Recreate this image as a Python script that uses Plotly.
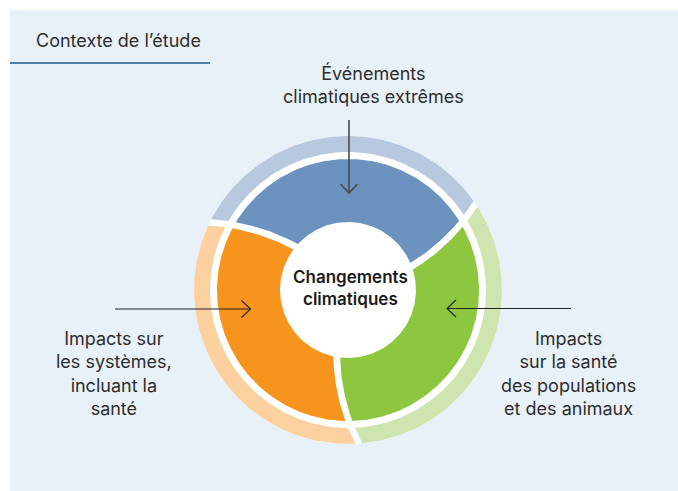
import numpy as np
import plotly.graph_objects as go

# ---------------- data ----------------
segment_names = ["Événements climatiques extrêmes",
                 "Impacts sur les systèmes, incluant la santé",
                 "Impacts sur la santé des populations et des animaux"]
segment_shares = [1, 1, 1]
main_colors = ["#6C93BF", "#F7941E", "#8DC63F"]
light_colors = ["#B8C8DF", "#FDD09F", "#CFE5AF"]

center_label = "Changements<br>climatiques"
title_text = "Contexte de l’étude"
top_label = "Événements<br>climatiques extrêmes"
left_label = "Impacts sur<br>les systèmes,<br>incluant la<br>santé"
right_label = "Impacts<br>sur la santé<br>des populations<br>et des animaux"

# ---------------- geometry / style ----------------
W, H = 678, 491
CX, CY = 348, 290
R_HOLE, R_MAIN, R_LIGHT_IN, R_LIGHT_OUT = 68, 131, 138, 154
START_DEG = 20.5      # boundary angle at the hole
TWIST_DEG = 13.5      # extra rotation reached at the outer edge
HALF_GAP = 3.5        # px
FONT = "Inter"
TXT = "#2E2E2E"
FS = 18

def boundary_theta(base_deg, r):
    return np.radians(base_deg + TWIST_DEG * (r - R_HOLE) / (R_LIGHT_OUT - R_HOLE))

def sector(b0, b1, r_in, r_out, n=120):
    rs = np.linspace(r_in, r_out, 40)
    t_out = np.linspace(boundary_theta(b0, r_out) + HALF_GAP / r_out,
                        boundary_theta(b1, r_out) - HALF_GAP / r_out, n)
    t_b1 = boundary_theta(b1, rs[::-1]) - HALF_GAP / rs[::-1]
    t_in = np.linspace(boundary_theta(b1, r_in) - HALF_GAP / r_in,
                       boundary_theta(b0, r_in) + HALF_GAP / r_in, n)
    t_b0 = boundary_theta(b0, rs) + HALF_GAP / rs
    th = np.concatenate([t_out, t_b1, t_in, t_b0])
    rr = np.concatenate([np.full(n, r_out), rs[::-1], np.full(n, r_in), rs])
    return CX + rr * np.cos(th), CY - rr * np.sin(th)

fig = go.Figure()

# white underlay disc
tt = np.linspace(0, 2 * np.pi, 361)
fig.add_trace(go.Scatter(x=CX + R_LIGHT_OUT * np.cos(tt), y=CY - R_LIGHT_OUT * np.sin(tt),
                         fill="toself", fillcolor="white", line=dict(width=0),
                         mode="lines", hoverinfo="skip", showlegend=False))

total = sum(segment_shares)
acc = 0.0
for name, share, mc, lc in zip(segment_names, segment_shares, main_colors, light_colors):
    b0 = START_DEG + 360 * acc / total
    b1 = START_DEG + 360 * (acc + share) / total
    acc += share
    x, y = sector(b0, b1, R_LIGHT_IN, R_LIGHT_OUT)
    fig.add_trace(go.Scatter(x=x, y=y, fill="toself", fillcolor=lc, line=dict(width=0),
                             mode="lines", name=name, hoverinfo="name", showlegend=False))
    x, y = sector(b0, b1, R_HOLE, R_MAIN)
    fig.add_trace(go.Scatter(x=x, y=y, fill="toself", fillcolor=mc, line=dict(width=0),
                             mode="lines", name=name, hoverinfo="name", showlegend=False))

shapes = [dict(type="rect", xref="paper", yref="paper", x0=10 / W, x1=1, y0=0, y1=1 - 10 / H,
               fillcolor="#E9F1F8", line=dict(width=0), layer="below"),
          dict(type="line", x0=10, x1=210, y0=63, y1=63, line=dict(color="#1F5C8E", width=1.5))]

def arrow(x0, y0, x1, y1, color, width):
    shapes.append(dict(type="line", x0=x0, y0=y0, x1=x1, y1=y1, line=dict(color=color, width=width)))
    d = np.array([x1 - x0, y1 - y0], float)
    d /= np.linalg.norm(d)
    p = np.array([-d[1], d[0]])
    L, S = 9, 8.5
    a = np.array([x1, y1]) - L * d + S * p
    b = np.array([x1, y1]) - L * d - S * p
    shapes.append(dict(type="path", path=f"M{a[0]},{a[1]} L{x1},{y1} L{b[0]},{b[1]}",
                       line=dict(color=color, width=width)))

arrow(349, 120, 349, 193, "#4A4A4A", 1.6)
arrow(115, 309, 250.5, 309, "#222222", 1.1)
arrow(571, 308.5, 447, 308.5, "#222222", 1.1)

annotations = [
    dict(x=34, y=40, text=title_text, xanchor="left", yanchor="middle", showarrow=False,
         font=dict(family=FONT, size=FS, color=TXT)),
    dict(x=373, y=84, text=top_label, showarrow=False, align="center",
         font=dict(family=FONT, size=FS, color=TXT)),
    dict(x=113.5, y=373, text=left_label, showarrow=False, align="center",
         font=dict(family=FONT, size=FS, color=TXT)),
    dict(x=568.5, y=373, text=right_label, showarrow=False, align="center",
         font=dict(family=FONT, size=FS, color=TXT)),
    dict(x=350.5, y=287.5, text=center_label, showarrow=False, align="center",
         font=dict(family=FONT, size=17, color="#1A1A1A", weight=600)),
]

fig.update_layout(
    width=W, height=H, autosize=False,
    margin=dict(l=0, r=0, t=0, b=0),
    paper_bgcolor="white", plot_bgcolor="rgba(0,0,0,0)",
    xaxis=dict(range=[0, W], visible=False, fixedrange=True),
    yaxis=dict(range=[H, 0], visible=False, fixedrange=True),
    shapes=shapes, annotations=annotations, showlegend=False,
)

fig.write_html("out.html", config={"displayModeBar": False},
               post_script="document.body.style.margin='0px';document.body.style.overflow='hidden';")
